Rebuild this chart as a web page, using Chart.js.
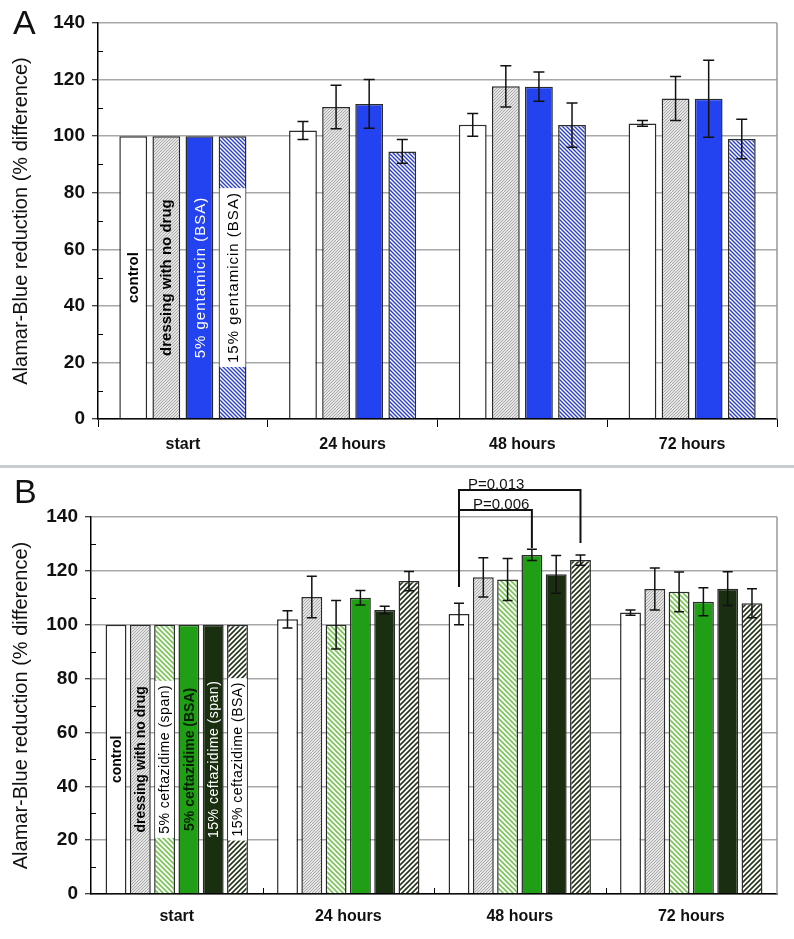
<!DOCTYPE html>
<html>
<head>
<meta charset="utf-8">
<script src="https://cdn.jsdelivr.net/npm/chart.js@4.4.1/dist/chart.umd.min.js"></script>
<style>
  body { margin: 0; background: #fff; }
  #wrap { position: relative; width: 794px; height: 939px; font-family: "Liberation Sans", Arial, sans-serif; }
  canvas { position: absolute; left: 0; }
  .panel { position: absolute; font-size: 34px; line-height: 34px; color: #111; }
  #sep { position: absolute; left: 0; top: 465px; width: 794px; height: 3px; background: #c8cdd1; }
</style>
</head>
<body>
<div id="wrap">
  <canvas id="chartA" width="794" height="465" style="top:0"></canvas>
  <div id="sep"></div>
  <canvas id="chartB" width="794" height="469" style="top:470px"></canvas>
  <div class="panel" style="left:13px;top:5px">A</div>
  <div class="panel" style="left:14px;top:474px">B</div>
</div>
<script>
// data
const timepoints = ['start', '24 hours', '48 hours', '72 hours']
const groupsA = ['control', 'dressing with no drug', '5% gentamicin (BSA)', '15% gentamicin (BSA)']
const groupsB = ['control', 'dressing with no drug', '5% ceftazidime (span)', '5% ceftazidime (BSA)', '15% ceftazidime (span)', '15% ceftazidime (BSA)']

const controlVals = [100, 102, 104, 104.5]
const controlErr = [0, 3.2, 4, 1]
const dressingVals = [100, 110.3, 117.6, 113.3]
const dressingErr = [0, 7.7, 7.3, 7.8]

const genta5Vals = [100, 111.4, 117.5, 113.2]
const genta5Err = [0, 8.6, 5.2, 13.6]
const genta15Vals = [100, 94.6, 103.9, 99]
const genta15Err = [0, 4.2, 7.8, 7]

const cef5spanVals = [100, 100, 116.8, 112.2]
const cef5spanErr = [0, 9, 7.8, 7.4]
const cef5bsaVals = [100, 110, 125.9, 108.5]
const cef5bsaErr = [0, 2.7, 2.1, 5.2]
const cef15spanVals = [100, 105.5, 118.7, 113.4]
const cef15spanErr = [0, 1.4, 7, 6.3]
const cef15bsaVals = [100, 116.2, 124, 108]
const cef15bsaErr = [0, 3.6, 1.9, 5.4]

const yTicks = [0, 20, 40, 60, 80, 100, 120, 140]
const pLabels = ['P=0.013', 'P=0.006']

const FONT = '"Liberation Sans", Arial, sans-serif'
Chart.defaults.font.family = FONT

// diagonal hatch fill
function hatch(ctx, bg, fg, size, lw, dir) {
  const c = document.createElement('canvas')
  c.width = c.height = size
  const x = c.getContext('2d')
  x.fillStyle = bg
  x.fillRect(0, 0, size, size)
  x.strokeStyle = fg
  x.lineWidth = lw
  x.beginPath()
  if (dir == '/') {
    x.moveTo(0, size); x.lineTo(size, 0)
    x.moveTo(-size / 2, size / 2); x.lineTo(size / 2, -size / 2)
    x.moveTo(size / 2, size * 1.5); x.lineTo(size * 1.5, size / 2)
  } else {
    x.moveTo(0, 0); x.lineTo(size, size)
    x.moveTo(-size / 2, size / 2); x.lineTo(size / 2, size * 1.5)
    x.moveTo(size / 2, -size / 2); x.lineTo(size * 1.5, size / 2)
  }
  x.stroke()
  return ctx.createPattern(c, 'repeat')
}

// error bars on top of the bars
const errorBars = {
  id: 'errorBars',
  afterDatasetsDraw(chart, args, opts) {
    const { ctx, scales: { y } } = chart
    ctx.save()
    ctx.strokeStyle = '#111'
    ctx.lineWidth = 1.5
    chart.data.datasets.forEach((ds, di) => {
      chart.getDatasetMeta(di).data.forEach((bar, i) => {
        const e = ds.errs[i]
        if (!e) return
        const t = y.getPixelForValue(ds.data[i] + e)
        const b = y.getPixelForValue(ds.data[i] - e)
        ctx.beginPath()
        ctx.moveTo(bar.x, t); ctx.lineTo(bar.x, b)
        ctx.moveTo(bar.x - opts.cap, t); ctx.lineTo(bar.x + opts.cap, t)
        ctx.moveTo(bar.x - opts.cap, b); ctx.lineTo(bar.x + opts.cap, b)
        ctx.stroke()
      })
    })
    ctx.restore()
  }
}

// vertical group names written inside the first group of bars
const barLabels = {
  id: 'barLabels',
  afterDatasetsDraw(chart, args, opts) {
    const { ctx, scales: { y } } = chart
    const cy = y.getPixelForValue(opts.at)
    chart.data.datasets.forEach((ds, di) => {
      const s = opts.styles[di]
      const bar = chart.getDatasetMeta(di).data[0]
      ctx.save()
      ctx.translate(bar.x, cy)
      ctx.rotate(-Math.PI / 2)
      ctx.font = s.font + ' ' + FONT
      ctx.letterSpacing = s.spacing || '0px'
      ctx.textAlign = 'center'
      ctx.textBaseline = 'middle'
      const w = ctx.measureText(ds.label).width
      if (s.bg) {
        const hw = bar.width / 2 - 1
        ctx.fillStyle = s.bg
        ctx.fillRect(-w / 2 - 4, -hw, w + 8, hw * 2)
      }
      ctx.fillStyle = s.color
      ctx.fillText(ds.label, 0, 1)
      ctx.restore()
    })
  }
}

// minor ticks, frame, inner category ticks
const axisMarks = {
  id: 'axisMarks',
  afterDraw(chart, args, opts) {
    const { ctx, chartArea: ca, scales: { x, y } } = chart
    ctx.save()
    ctx.strokeStyle = '#999'
    ctx.lineWidth = 1.5
    ctx.beginPath()
    ctx.moveTo(ca.right, ca.top); ctx.lineTo(ca.right, ca.bottom)
    ctx.stroke()
    ctx.strokeStyle = '#000'
    ctx.lineWidth = 1
    ctx.beginPath()
    for (let i = 0; i < yTicks.length - 1; i++) {
      const py = Math.round(y.getPixelForValue((yTicks[i] + yTicks[i + 1]) / 2)) + 0.5
      ctx.moveTo(ca.left, py); ctx.lineTo(ca.left + 5, py)
    }
    if (opts.innerX) {
      const cw = (ca.right - ca.left) / timepoints.length
      for (let i = 1; i < timepoints.length; i++) {
        const px = Math.round(ca.left + i * cw) + 0.5
        ctx.moveTo(px, ca.bottom); ctx.lineTo(px, ca.bottom - 6)
      }
    }
    ctx.stroke()
    ctx.restore()
  }
}

// significance brackets
const brackets = {
  id: 'brackets',
  afterDraw(chart, args, opts) {
    if (!opts.items) return
    const { ctx, scales: { y } } = chart
    ctx.save()
    ctx.strokeStyle = '#111'
    ctx.lineWidth = 2
    ctx.fillStyle = '#111'
    ctx.font = '15px ' + FONT
    ctx.textBaseline = 'alphabetic'
    opts.items.forEach(it => {
      const x1 = chart.getDatasetMeta(it.from).data[it.cat].x
      const x2 = chart.getDatasetMeta(it.to).data[it.cat].x
      const yl = y.getPixelForValue(it.level)
      ctx.beginPath()
      ctx.moveTo(x1, y.getPixelForValue(it.fromEnd))
      ctx.lineTo(x1, yl)
      ctx.lineTo(x2, yl)
      ctx.lineTo(x2, y.getPixelForValue(it.toEnd))
      ctx.stroke()
      ctx.fillText(it.text, x1 + it.dx, yl - 1)
    })
    ctx.restore()
  }
}

function makeChart(id, groups, vals, errs, fills, opts) {
  const ctx = document.getElementById(id).getContext('2d')
  return new Chart(ctx, {
    type: 'bar',
    data: {
      labels: timepoints,
      datasets: groups.map((g, i) => ({
        label: g,
        data: vals[i],
        errs: errs[i],
        backgroundColor: fills(ctx)[i],
        borderColor: '#2b2b2b',
        borderWidth: 1.5,
        categoryPercentage: opts.catPct,
        barPercentage: opts.barPct
      }))
    },
    options: {
      responsive: false,
      animation: false,
      layout: { padding: { left: 0, right: 17, top: opts.top, bottom: 0 } },
      plugins: {
        legend: { display: false },
        tooltip: { enabled: false },
        errorBars: { cap: opts.cap },
        barLabels: { at: 50, styles: opts.labelStyles },
        axisMarks: { innerX: opts.innerX },
        brackets: { items: opts.brackets }
      },
      scales: {
        x: {
          grid: { drawOnChartArea: false, drawTicks: !opts.innerX, tickLength: 8, color: '#000', lineWidth: 1 },
          border: { color: '#000', width: 1.5 },
          ticks: { color: '#111', font: { size: 16, weight: 'bold' }, padding: opts.innerX ? 13 : 8 },
          afterFit(s) { s.height = opts.xH }
        },
        y: {
          min: yTicks[0],
          max: yTicks[yTicks.length - 1],
          afterBuildTicks(s) { s.ticks = yTicks.map(v => ({ value: v })) },
          ticks: { color: '#111', font: { size: 19, weight: 'bold' }, padding: 7 },
          grid: { color: '#a8a8a8', lineWidth: 1.5, tickLength: 6, tickColor: '#000', tickWidth: 1 },
          border: { color: '#000', width: 1.5 },
          title: {
            display: true,
            text: 'Alamar-Blue reduction (% difference)',
            color: '#111',
            font: { size: 20 },
            padding: { top: 9, bottom: 0 }
          },
          afterFit(s) { s.width = opts.yW }
        }
      }
    },
    plugins: [errorBars, barLabels, axisMarks, brackets]
  })
}

makeChart('chartA', groupsA,
  [controlVals, dressingVals, genta5Vals, genta15Vals],
  [controlErr, dressingErr, genta5Err, genta15Err],
  ctx => ['#ffffff', hatch(ctx, '#e4e4e4', '#9a9a9a', 3, 0.8, '/'), '#2343f0', hatch(ctx, '#ffffff', '#2b3ec6', 4, 1.4, '\\')],
  {
    top: 23, yW: 98, xH: 46, catPct: 0.78, barPct: 0.84, cap: 5.5, innerX: false,
    labelStyles: [
      { font: 'bold 15px', color: '#000' },
      { font: 'bold 15px', color: '#000' },
      { font: '15px', color: '#fff', spacing: '1px' },
      { font: '15px', color: '#000', bg: '#fff', spacing: '1px' }
    ]
  })

makeChart('chartB', groupsB,
  [controlVals, dressingVals, cef5spanVals, cef5bsaVals, cef15spanVals, cef15bsaVals],
  [controlErr, dressingErr, cef5spanErr, cef5bsaErr, cef15spanErr, cef15bsaErr],
  ctx => ['#ffffff', hatch(ctx, '#e4e4e4', '#9a9a9a', 3, 0.8, '/'), hatch(ctx, '#ffffff', '#78c455', 5, 1.6, '\\'),
    '#1f9e16', '#1a2e10', hatch(ctx, '#ffffff', '#25351c', 5, 1.6, '/')],
  {
    top: 47, yW: 91, xH: 45, catPct: 0.85, barPct: 0.86, cap: 5, innerX: true,
    labelStyles: [
      { font: 'bold 14px', color: '#000' },
      { font: 'bold 14px', color: '#000' },
      { font: '14px', color: '#000', bg: '#fff', spacing: '0.5px' },
      { font: 'bold 14px', color: '#0c1c06' },
      { font: '14px', color: '#fff', spacing: '0.5px' },
      { font: '14px', color: '#000', bg: '#fff', spacing: '0.5px' }
    ],
    brackets: [
      { text: pLabels[0], from: 0, to: 5, cat: 2, level: 150, fromEnd: 114, toEnd: 130.3, dx: 9 },
      { text: pLabels[1], from: 0, to: 3, cat: 2, level: 142.6, fromEnd: 114, toEnd: 128.5, dx: 14 }
    ]
  })
</script>
</body>
</html>
